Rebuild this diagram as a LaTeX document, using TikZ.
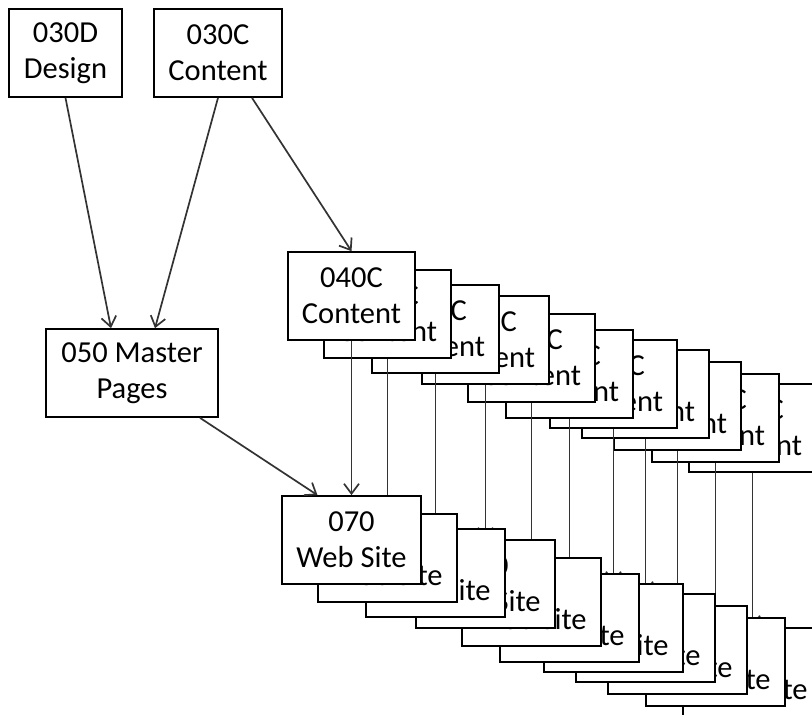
\documentclass[tikz,border=0pt]{standalone}
\usepackage{fontspec}
\setmainfont{Carlito}
\usetikzlibrary{arrows.meta}

\begin{document}
\begin{tikzpicture}[x=1pt,y=-1pt,
  box/.style={draw,line width=1.7pt,fill=white,align=center,inner sep=0pt,
    minimum height=88pt,font=\fontsize{30.5}{36}\selectfont},
  link/.style={draw=black!80,line width=1.7pt,
    -{Straight Barb[length=10pt,width=15pt]}}]
\useasboundingbox (0,0) rectangle (812,715);
\clip (0,0) rectangle (812,715);
\newcommand{\pagepair}[3]{
  \node[box,minimum width=127pt] (c#1) at (#2,#3) {040C\\Content};
  \node[box,minimum width=139pt] (w#1) at (#2,#3+244) {070\\Web Site};
  \draw[link] (c#1.south) -- (w#1.north);
}

% stack of content pages and web sites, back to front
  \foreach \i/\x/\y in {11/752.5/428,10/715.5/418,9/677.5/406,8/645.5/394,
      7/613.5/384,6/569.5/374,5/531.5/358,4/485.5/340,3/435.5/329,
      2/387.5/314,1/351.5/296} {
    \pagepair{\i}{\x}{\y}
  }

% upper part
  \node[box,minimum width=113pt] (design) at (65.5,53) {030D\\Design};
  \node[box,minimum width=128pt] (content) at (218,53) {030C\\Content};
  \node[box,minimum width=172pt] (master) at (132,373) {050 Master\\Pages};

  \draw[link] (design.south) -- ([xshift=-21pt]master.north);
  \draw[link] (content.south) -- ([xshift=23pt]master.north);
  \draw[link] ([xshift=34pt]content.south) -- (c1.north);
  \draw[link] ([xshift=68pt]master.south) -- ([xshift=-34pt]w1.north);
\end{tikzpicture}
\end{document}
